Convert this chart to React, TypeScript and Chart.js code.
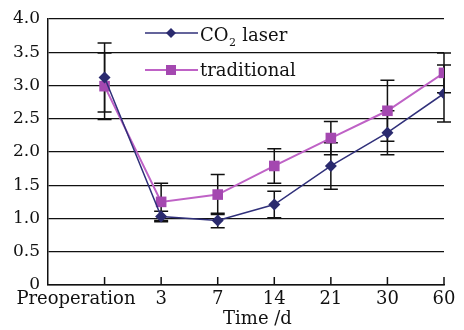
import React, { useEffect, useRef } from "react";
import { Chart, registerables } from "chart.js";

Chart.register(...registerables);

const categories = ["Preoperation", "3", "7", "14", "21", "30", "60"];
const co2Values = [3.12, 1.03, 0.97, 1.21, 1.79, 2.29, 2.88];
const co2Errors = [0.52, 0.08, 0.11, 0.2, 0.35, 0.33, 0.43];
const tradValues = [2.99, 1.25, 1.36, 1.79, 2.21, 2.62, 3.19];
const tradErrors = [0.5, 0.28, 0.3, 0.26, 0.25, 0.46, 0.3];
const yTicks = [0, 0.5, 1, 1.5, 2, 2.5, 3, 3.5, 4];
const seriesNames = ["CO2 laser", "traditional"];
const xTitle = "Time /d";

const FONT = "DejaVu Serif";
const NAVY = "#2a2a6e";
const NAVY_LINE = "#30307a";
const PURPLE = "#a448b0";
const PURPLE_LINE = "#bf62c6";

const errorBarPlugin = {
  id: "errorBars",
  beforeDatasetsDraw(chart: any) {
    const { ctx } = chart;
    const x = chart.scales.x;
    const y = chart.scales.y;
    const sets = [
      { v: co2Values, e: co2Errors },
      { v: tradValues, e: tradErrors },
    ];
    ctx.save();
    ctx.strokeStyle = "#111";
    ctx.lineWidth = 1.5;
    sets.forEach((s) => {
      s.v.forEach((val, i) => {
        const px = x.getPixelForValue(i);
        const top = y.getPixelForValue(val + s.e[i]);
        const bot = y.getPixelForValue(val - s.e[i]);
        ctx.beginPath();
        ctx.moveTo(px, top);
        ctx.lineTo(px, bot);
        ctx.moveTo(px - 7, top);
        ctx.lineTo(px + 7, top);
        ctx.moveTo(px - 7, bot);
        ctx.lineTo(px + 7, bot);
        ctx.stroke();
      });
    });
    ctx.restore();
  },
};

const innerTicksPlugin = {
  id: "innerTicks",
  afterDatasetsDraw(chart: any) {
    const { ctx } = chart;
    const x = chart.scales.x;
    const bottom = chart.chartArea.bottom;
    ctx.save();
    ctx.strokeStyle = "#111";
    ctx.lineWidth = 1.5;
    categories.forEach((_, i) => {
      const px = x.getPixelForValue(i);
      ctx.beginPath();
      ctx.moveTo(px, bottom);
      ctx.lineTo(px, bottom - 8);
      ctx.stroke();
    });
    ctx.restore();
  },
};

const legendPlugin = {
  id: "innerLegend",
  afterDraw(chart: any) {
    const { ctx } = chart;
    const lx0 = 145;
    const lx1 = 198;
    const mx = 171;
    const tx = 200;
    ctx.save();
    // entry 1
    let ly = 33;
    ctx.strokeStyle = NAVY_LINE;
    ctx.lineWidth = 1.5;
    ctx.beginPath();
    ctx.moveTo(lx0, ly);
    ctx.lineTo(lx1, ly);
    ctx.stroke();
    ctx.fillStyle = NAVY;
    ctx.beginPath();
    ctx.moveTo(mx - 5, ly);
    ctx.lineTo(mx, ly - 5);
    ctx.lineTo(mx + 5, ly);
    ctx.lineTo(mx, ly + 5);
    ctx.closePath();
    ctx.fill();
    ctx.fillStyle = "#111";
    ctx.textBaseline = "alphabetic";
    ctx.textAlign = "left";
    ctx.font = `18px "${FONT}"`;
    const main = seriesNames[0].slice(0, 2);
    ctx.fillText(main, tx, 41);
    const w = ctx.measureText(main).width;
    ctx.font = `11px "${FONT}"`;
    ctx.fillText(seriesNames[0].slice(2, 3), tx + w + 0.5, 46);
    const w2 = ctx.measureText(seriesNames[0].slice(2, 3)).width;
    ctx.font = `18px "${FONT}"`;
    ctx.fillText(seriesNames[0].slice(3), tx + w + w2 + 1, 41);
    // entry 2
    ly = 70;
    ctx.strokeStyle = PURPLE_LINE;
    ctx.lineWidth = 2;
    ctx.beginPath();
    ctx.moveTo(lx0, ly);
    ctx.lineTo(lx1, ly);
    ctx.stroke();
    ctx.fillStyle = PURPLE;
    ctx.fillRect(mx - 5, ly - 5, 10, 10);
    ctx.fillStyle = "#111";
    ctx.fillText(seriesNames[1], tx, 76);
    ctx.restore();
  },
};

export default function App() {
  const ref = useRef<HTMLCanvasElement | null>(null);

  useEffect(() => {
    if (!ref.current) return;
    const chart = new Chart(ref.current, {
      type: "line",
      data: {
        datasets: [
          {
            label: seriesNames[0],
            data: co2Values.map((v, i) => ({ x: i, y: v })),
            borderColor: NAVY_LINE,
            backgroundColor: NAVY,
            borderWidth: 1.5,
            pointStyle: "rectRot",
            pointRadius: 6,
            pointBorderWidth: 0,
            pointBackgroundColor: NAVY,
            tension: 0,
          },
          {
            label: seriesNames[1],
            data: tradValues.map((v, i) => ({ x: i, y: v })),
            borderColor: PURPLE_LINE,
            backgroundColor: PURPLE,
            borderWidth: 2,
            pointStyle: "rect",
            pointRadius: 7.5,
            pointBorderWidth: 0,
            pointBackgroundColor: PURPLE,
            tension: 0,
          },
        ],
      },
      options: {
        responsive: false,
        animation: false,
        devicePixelRatio: 1,
        layout: { padding: { top: 19, right: 20, bottom: 0, left: 0 } },
        plugins: {
          legend: { display: false },
          tooltip: { enabled: false },
        },
        scales: {
          x: {
            type: "linear",
            min: -1,
            max: 6,
            afterFit: (s: any) => {
              s.height = 45;
            },
            afterBuildTicks: (s: any) => {
              s.ticks = [-1, 0, 1, 2, 3, 4, 5, 6].map((v) => ({ value: v }));
            },
            grid: { display: false, drawTicks: false },
            border: { display: true, color: "#111", width: 1.5 },
            ticks: {
              autoSkip: false,
              maxRotation: 0,
              minRotation: 0,
              padding: 4,
              color: "#111",
              font: { family: FONT, size: 18 },
              callback: (v: any) => {
                const i = Number(v);
                if (i < 0) return "";
                if (i === 0) return categories[0] + "          ";
                return categories[i] ?? "";
              },
            },
            title: {
              display: true,
              text: "    " + xTitle,
              color: "#111",
              font: { family: FONT, size: 18 },
              padding: { top: 0, bottom: 0 },
            },
          },
          y: {
            min: 0,
            max: 4,
            afterFit: (s: any) => {
              s.width = 48;
            },
            afterBuildTicks: (s: any) => {
              s.ticks = yTicks.map((v) => ({ value: v }));
            },
            grid: { color: "#111", lineWidth: 1.3, drawTicks: false },
            border: { display: true, color: "#111", width: 1.5 },
            ticks: {
              padding: 8,
              color: "#111",
              font: { family: FONT, size: 17 },
              callback: (v: any) => (Number(v) === 0 ? "0" : Number(v).toFixed(1)),
            },
          },
        },
      },
      plugins: [errorBarPlugin, innerTicksPlugin, legendPlugin],
    });
    return () => chart.destroy();
  }, []);

  return (
    <div style={{ position: "absolute", left: 0, top: 0, width: 464, height: 330, background: "#fff" }}>
      <canvas ref={ref} width={464} height={330} />
    </div>
  );
}
